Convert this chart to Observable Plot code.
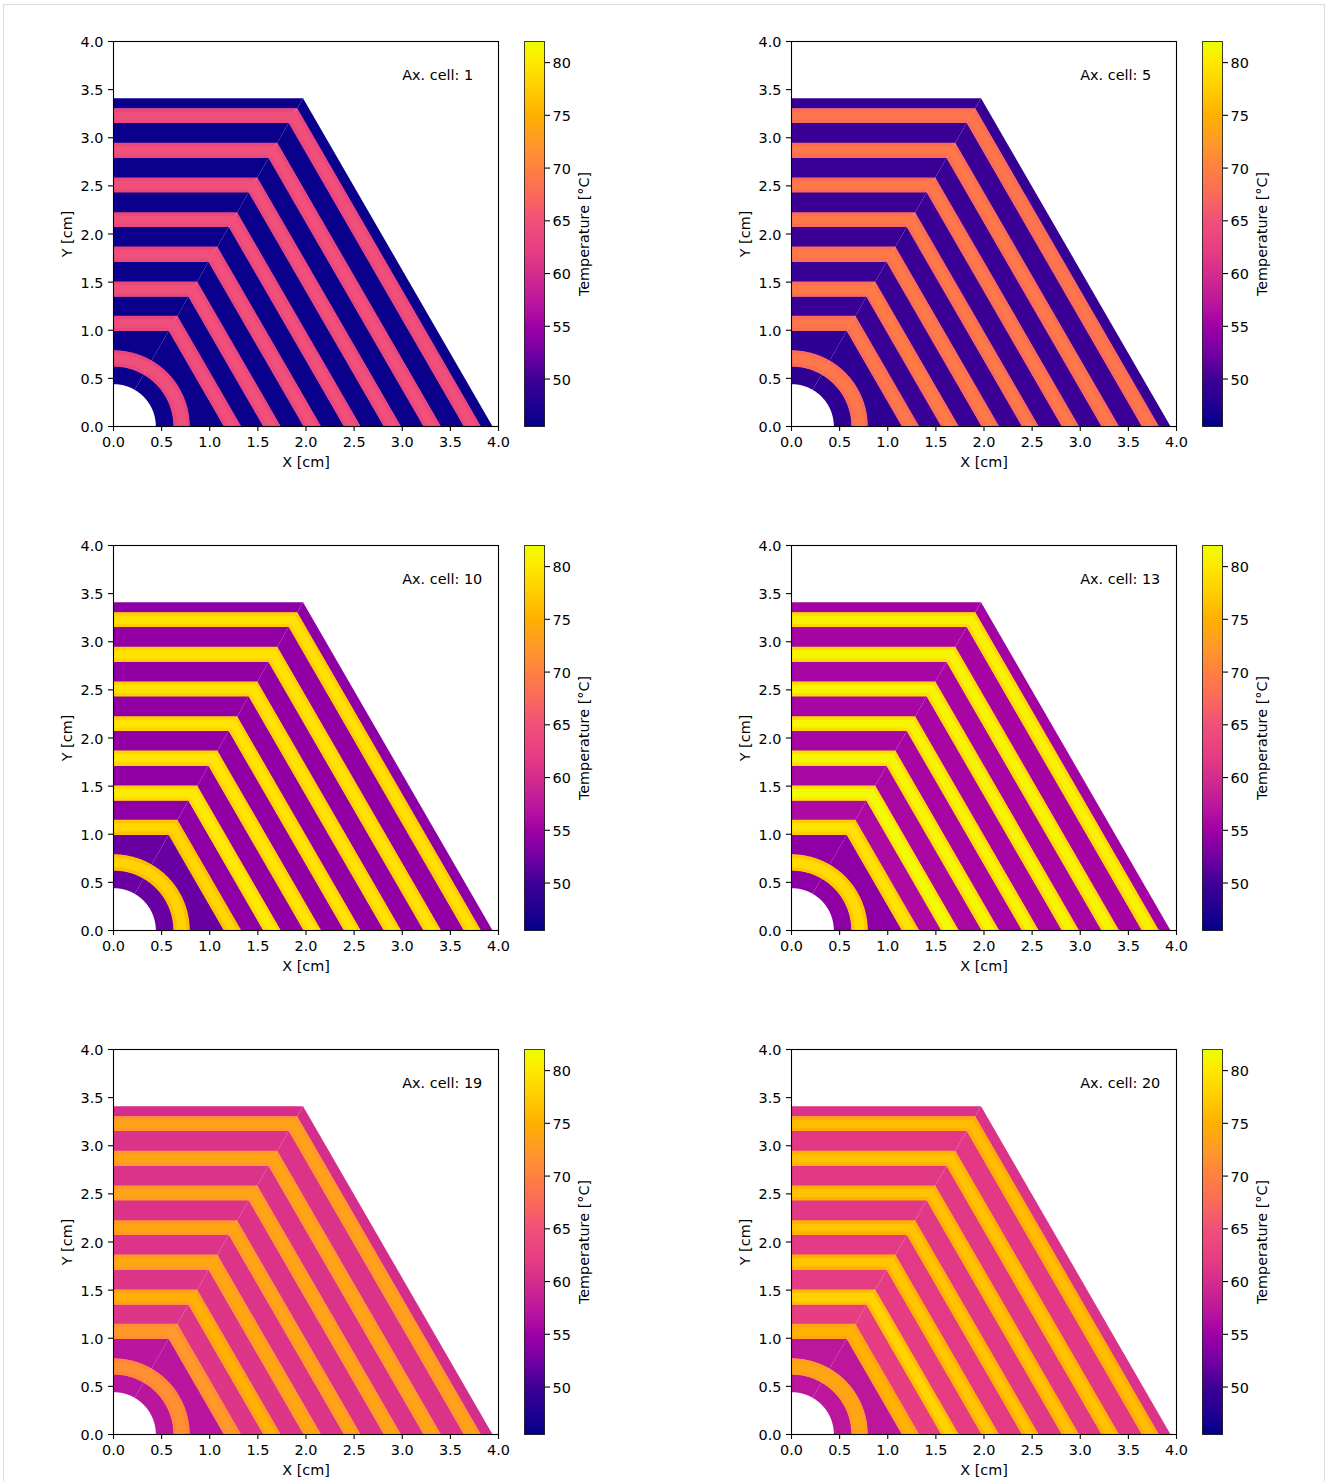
<!DOCTYPE html>
<html>
<head>
<meta charset="utf-8">
<script src="https://cdn.jsdelivr.net/npm/d3@7"></script>
<script src="https://cdn.jsdelivr.net/npm/@observablehq/plot@0.6"></script>
<style>
html,body{margin:0;padding:0;background:#fff;width:1327px;height:1481px;overflow:hidden}
#fig{position:relative;width:1327px;height:1481px;overflow:hidden;font-family:"DejaVu Sans";color:#000}
#fig svg{position:absolute;background:none;max-width:none}
#frame{position:absolute;left:3px;top:4px;width:1322px;height:1500px;border:1.5px solid #dcdcdc;box-sizing:border-box}
</style>
</head>
<body>
<div id="fig"><div id="frame"></div></div>
<script>
// Colour bar of the figure
const stopValues = [45.5, 47, 50, 52, 55, 57, 60, 62, 65, 67.5, 70, 72.5, 75, 77, 80, 82];
const stopColors = ["#00008a","#1a0090","#3f0096","#6a00a4","#a000a5","#b813a0","#d42d8c","#e63c84","#f0507a","#fb6a5a","#ff8040","#ff9a28","#ffb000","#ffc800","#ffe800","#eeff00"];
const barTicks = [50,55,60,65,70,75,80];
const axisTicks = [0,0.5,1,1.5,2,2.5,3,3.5,4];

// Axial cells
const cells = [1,5,10,13,19,20];

// Radii and flat-to-centre distances [cm]
const holeR = 0.44, ringIn = 0.622, ringOut = 0.792;
const bandIn  = [0.993,1.347,1.710,2.073,2.432,2.789,3.152];
const bandOut = [1.150,1.506,1.869,2.225,2.588,2.948,3.307];
const outerFlat = 3.411;
const cladT = 0.036;
const underlap = 0.006;

// Temperatures [deg C], one row per axial cell
// coolant: ring inside, ring outside, between bands ..., outermost
const coolant = [
 [46.1,46.1,46.1,46.1,46.1,46.1,46.1,46.1,46.1],
 [48.6,48.6,49.5,49.5,49.6,49.6,49.6,49.6,49.3],
 [52,52,54,54.2,54.2,54.2,54.2,54.2,54],
 [54,54,56,55.8,55.6,55.6,55.6,55.5,55.3],
 [57.2,57.2,61,61,60.9,60.8,60.8,60.8,60],
 [57.4,57.4,62.3,62,61.8,61.6,61.6,61.5,60.8]
];
// fuel: ring, then bands from the centre outwards
const fuel = [
 [64.8,64.8,65,65,65,65,65,64.9],
 [69,69,69.6,69.2,69.2,69.1,69.1,68.9],
 [77.9,78.3,80.3,79.7,79.6,79.5,79.5,79.3],
 [78.8,79.5,81.7,81.2,81,81,81,80.8],
 [71.4,72.4,75,74,73.8,73.7,73.7,73.4],
 [73.8,75.2,78,76.8,76.6,76.4,76.4,76]
];
const clad = [
 [63.4,63.4,63.6,63.6,63.6,63.6,63.6,63.5],
 [67.6,67.6,68,67.8,67.7,67.7,67.7,67.6],
 [76.1,76.5,78.5,78,77.9,77.8,77.8,77.5],
 [76.8,77.6,79.6,79,78.9,78.8,78.8,78.6],
 [70.5,71.3,73.2,72.6,72.4,72.4,72.4,72.2],
 [72.8,73.8,76,75.2,75,75,75,74.6]
];

const S3 = Math.sqrt(3);
const rad = d => d * Math.PI / 180;
const arc = (r, from, to) => d3.range(0, 41).map(i => {
  const a = rad(from + (to - from) * i / 40);
  return [r * Math.cos(a), r * Math.sin(a)];
});

// Ribbon between two hexagon flats, in the two sectors
function hexBand(a, b) {
  return [
    [[0,a],[0,b],[b/S3,b],[a/S3,a]],
    [[a/S3,a],[b/S3,b],[2*b/S3,0],[2*a/S3,0]]
  ];
}
function ringBand(r0, r1) {
  return [
    [...arc(r1,90,60),...arc(r0,60,90)],
    [...arc(r1,60,0),...arc(r0,0,60)]
  ];
}
function ringToHex(r, a) {
  return [
    [...arc(r,90,60),[a/S3,a],[0,a]],
    [...arc(r,60,0),[2*a/S3,0],[a/S3,a]]
  ];
}

// Painted in three layers so that only the sector seam stays visible
function regions(p) {
  const cool = [], cl = [], fu = [];
  const add = (target, polys, t) => polys.forEach(poly => target.push({poly, t}));
  add(cool, ringBand(holeR, ringIn + underlap), coolant[p][0]);
  add(cool, ringToHex(ringOut - underlap, bandIn[0] + underlap), coolant[p][1]);
  add(cl, ringBand(ringIn, ringOut), clad[p][0]);
  add(fu, ringBand(ringIn + cladT, ringOut - cladT), fuel[p][0]);
  bandIn.forEach((a, i) => {
    const b = bandOut[i];
    const last = i === bandIn.length - 1;
    const next = last ? outerFlat : bandIn[i+1] + underlap;
    add(cool, hexBand(b - underlap, next), coolant[p][i+2]);
    add(cl, hexBand(a, b), clad[p][i+1]);
    add(fu, hexBand(a + cladT, b - cladT), fuel[p][i+1]);
  });
  return [...cool, ...cl, ...fu].flatMap((r, id) => r.poly.map(([x,y]) => ({x, y, id, t:r.t})));
}

const colorScale = {type:"linear", domain:stopValues, range:stopColors, clamp:true, interpolate:"rgb"};
const FS = "14.4px";
const colX = [113, 791], rowY = [41, 545, 1049];
const fig = document.getElementById("fig");
const place = (svg, left, top) => { svg.style.left = left+"px"; svg.style.top = top+"px"; fig.appendChild(svg); };

cells.forEach((cell, p) => {
  const px = colX[p % 2], py = rowY[Math.floor(p / 2)];
  const chart = Plot.plot({
    width: 472, height: 446,
    marginLeft: 75, marginRight: 12, marginTop: 10, marginBottom: 51,
    x: {domain:[0,4], ticks:axisTicks},
    y: {domain:[0,4], ticks:axisTicks},
    color: colorScale,
    style: {fontFamily:"DejaVu Sans", fontSize:FS, background:"none", color:"#000"},
    marks: [
      Plot.line(regions(p), {x:"x", y:"y", z:"id", fill:"t", stroke:"none"}),
      Plot.text([`Ax. cell: ${cell}`], {x:()=>3.0, y:()=>3.65, text:d=>d, textAnchor:"start", fill:"#000"}),
      Plot.frame({stroke:"#000", strokeWidth:1.1}),
      Plot.axisX(axisTicks, {tickFormat:d3.format(".1f"), tickSize:5, tickPadding:5, strokeWidth:1.1, label:"X [cm]", labelAnchor:"center", labelArrow:"none", labelOffset:40}),
      Plot.axisY(axisTicks, {fill:"none", tickSize:5, strokeWidth:1.1, label:null}),
      Plot.axisY(axisTicks, {dy:1, tickFormat:d3.format(".1f"), tickSize:0, tickPadding:10, label:null}),
      Plot.axisY(axisTicks, {stroke:"none", text:()=>"", tickSize:0, label:"Y [cm]", labelAnchor:"center", labelArrow:"none", labelOffset:52})
    ]
  });
  place(chart, px-75, py-10);

  const bar = Plot.plot({
    width: 94, height: 446,
    marginLeft: 4, marginRight: 70, marginTop: 10, marginBottom: 51,
    x: {domain:[0,1], axis:null},
    y: {domain:[stopValues[0], stopValues[stopValues.length-1]]},
    color: colorScale,
    style: {fontFamily:"DejaVu Sans", fontSize:FS, background:"none", color:"#000"},
    marks: [
      Plot.raster({x1:0, x2:1, y1:stopValues[0], y2:stopValues[stopValues.length-1], fill:(x,y)=>y, pixelSize:1}),
      Plot.frame({stroke:"#000", strokeOpacity:0.75, strokeWidth:1}),
      Plot.axisY(barTicks, {anchor:"right", fill:"none", tickSize:5, strokeWidth:1.1, label:null}),
      Plot.axisY(barTicks, {anchor:"right", dy:1, tickSize:0, tickPadding:8, label:null}),
      Plot.axisY(barTicks, {anchor:"right", stroke:"none", text:()=>"", tickSize:0, label:"Temperature [°C]", labelAnchor:"center", labelArrow:"none", labelOffset:44})
    ]
  });
  place(bar, px+411-4, py-10);
});
</script>
</body>
</html>
